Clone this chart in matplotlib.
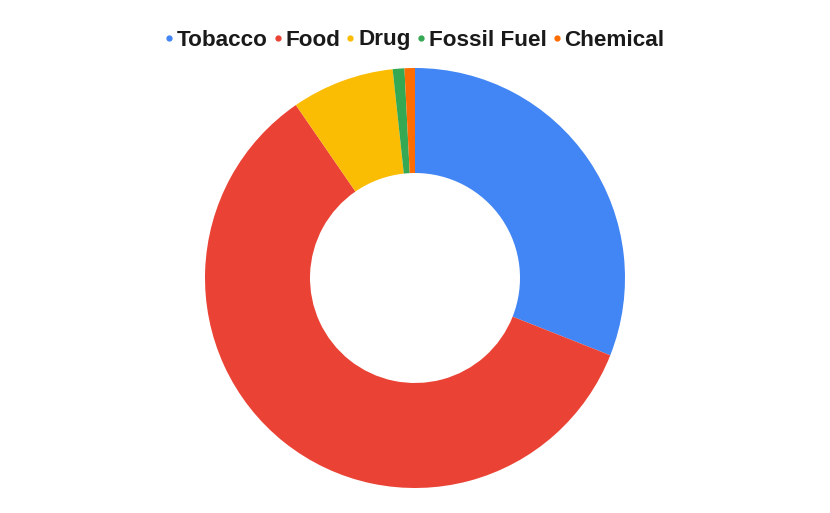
import matplotlib.pyplot as plt
from matplotlib.lines import Line2D

categories = ["Tobacco", "Food", "Drug", "Fossil Fuel", "Chemical"]
values = [31.0, 59.4, 7.9, 0.9, 0.8]
colors = ["#4285F4", "#EA4335", "#FBBC04", "#34A853", "#FF6D01"]


def main():
    fig = plt.figure(figsize=(8.3, 5.13), dpi=100)
    ax = fig.add_axes([205 / 830, 25 / 513, 420 / 830, 420 / 513])

    ax.pie(values, colors=colors, startangle=90, counterclock=False,
           radius=1.0, wedgeprops=dict(width=0.5, linewidth=0))
    ax.set_xlim(-1, 1)
    ax.set_ylim(-1, 1)
    ax.set_aspect("equal")
    ax.axis("off")

    handles = [Line2D([], [], marker="o", linestyle="none", markersize=3.5,
                      markerfacecolor=c, markeredgecolor=c) for c in colors]
    fig.legend(handles, categories, loc="center", bbox_to_anchor=(0.5, 1 - 40 / 513),
               ncol=5, frameon=False, handlelength=0.3, handletextpad=0.2,
               columnspacing=0.3,
               prop=dict(family="Liberation Sans", weight="bold", size=16.2),
               labelcolor="#1a1a1a")

    fig.savefig("out.png", dpi=100)


if __name__ == "__main__":
    main()
